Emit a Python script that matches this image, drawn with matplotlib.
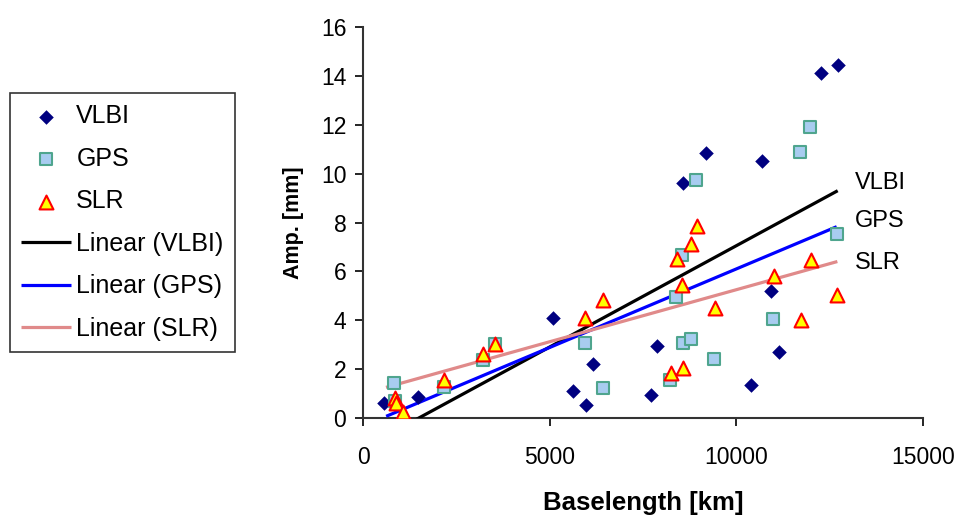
import matplotlib
matplotlib.use("Agg")
import matplotlib.pyplot as plt
import numpy as np

plt.rcParams['font.family'] = ['Liberation Sans', 'DejaVu Sans']

# ---- data ----
vlbi_x = [560, 1480, 5080, 5630, 5960, 6170, 7710, 7870, 8560, 9180,
          10390, 10700, 10920, 11140, 12270, 12715]
vlbi_y = [0.62, 0.87, 4.10, 1.10, 0.52, 2.19, 0.94, 2.95, 9.62, 10.85,
          1.35, 10.51, 5.18, 2.69, 14.10, 14.44]

gps_x = [840, 870, 2180, 3206, 3536, 5947, 6420, 8224, 8384, 8536, 8563,
         8777, 8920, 9410, 10991, 11706, 11974, 12688]
gps_y = [1.45, 0.70, 1.25, 2.37, 3.03, 3.08, 1.24, 1.55, 4.96, 6.67, 3.08,
         3.22, 9.73, 2.40, 4.05, 10.89, 11.89, 7.54]

slr_x = [860, 880, 1080, 2180, 3206, 3536, 5947, 6438, 8242, 8402, 8554,
         8563, 8777, 8955, 9429, 11009, 11732, 11992, 12706]
slr_y = [0.80, 0.60, 0.25, 1.55, 2.62, 3.01, 4.08, 4.83, 1.83, 6.49, 5.44,
         2.03, 7.14, 7.87, 4.49, 5.81, 4.01, 6.46, 5.03]

# linear trend lines (slope, intercept, x-range) as drawn in the reference
trend_names = ["VLBI", "GPS", "SLR"]
trend_slope = [0.000829, 0.000643, 0.000426]
trend_intercept = [-1.24, -0.33, 0.99]
trend_xmin = [560, 620, 616]
trend_xmax = [12715, 12688, 12706]

x_ticks = [0, 5000, 10000, 15000]
y_ticks = [0, 2, 4, 6, 8, 10, 12, 14, 16]

# ---- figure ----
fig = plt.figure(figsize=(9.61, 5.17), dpi=100)
ax = fig.add_axes([363/961, 1-418/517, 560/961, 391/517])

line_colors = ["#000000", "#0000FF", "#E08A8A"]
label_offsets = [0.3, 0.25, -0.05]
lines = []
for i, name in enumerate(trend_names):
    xs = np.array([trend_xmin[i], trend_xmax[i]])
    ys = trend_slope[i]*xs + trend_intercept[i]
    l, = ax.plot(xs, ys, color=line_colors[i], lw=2.3, zorder=3,
                 label=f"Linear ({name})", solid_capstyle='butt')
    lines.append(l)
    ax.text(13180, ys[-1] + label_offsets[i], name, fontsize=17,
            va='center', ha='left')

s1 = ax.scatter(vlbi_x, vlbi_y, marker='D', s=55, color='#000080',
                zorder=4, label='VLBI', linewidths=0)
s2 = ax.scatter(gps_x, gps_y, marker='s', s=72, facecolor='#A8CCF0',
                edgecolor='#4FA58E', linewidths=1.5, zorder=4, label='GPS')
s3 = ax.scatter(slr_x, slr_y, marker='^', s=100, facecolor='#FFFF00',
                edgecolor='#FF0000', linewidths=1.5, zorder=5, label='SLR')

ax.set_xlim(0, 15000)
ax.set_ylim(0, 16)
ax.set_xticks(x_ticks)
ax.set_yticks(y_ticks)
ax.tick_params(direction='out', length=6, width=1.2, labelsize=16.5)
ax.tick_params(axis='x', pad=14)
ax.tick_params(axis='y', pad=6)
ax.spines['top'].set_visible(False)
ax.spines['right'].set_visible(False)
for sp in ['left', 'bottom']:
    ax.spines[sp].set_linewidth(1.5)
    ax.spines[sp].set_color('#333333')

ax.set_xlabel("Baselength [km]", fontsize=18.5, fontweight='bold', labelpad=16)
ax.set_ylabel("Amp. [mm]", fontsize=15.5, fontweight='bold', labelpad=12)

leg = fig.legend(handles=[s1, s2, s3] + lines,
                 loc='upper left', bbox_to_anchor=(10/961, 1-93/517),
                 fontsize=18, frameon=True, fancybox=False,
                 edgecolor='black', borderpad=0.45, labelspacing=0.74,
                 handlelength=2.0, handletextpad=0.2, borderaxespad=0)
leg.get_frame().set_linewidth(1.2)

fig.savefig("out.png", dpi=100)
